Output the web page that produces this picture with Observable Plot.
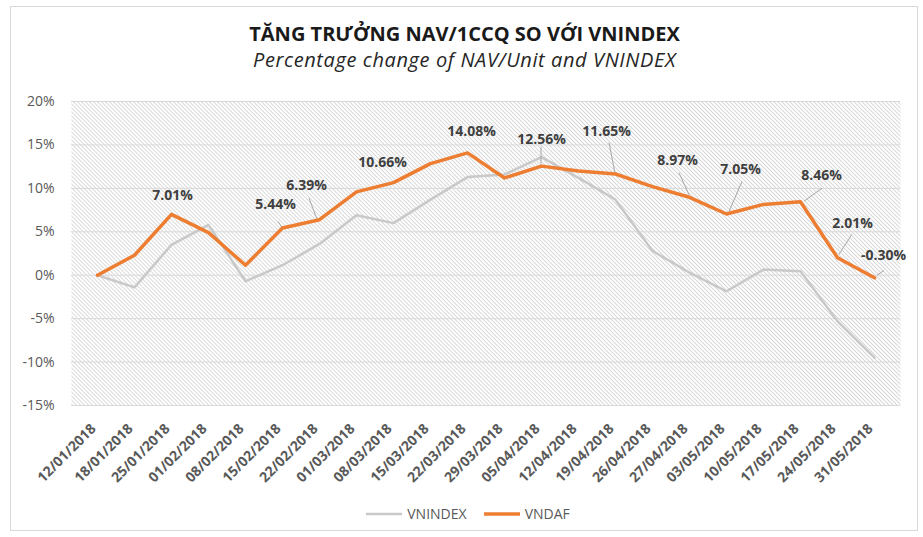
<!DOCTYPE html>
<html>
<head>
<meta charset="utf-8">
<script src="https://cdn.jsdelivr.net/npm/d3@7"></script>
<script src="https://cdn.jsdelivr.net/npm/@observablehq/plot@0.6"></script>
<style>
  body { margin: 0; background: #fff; }
  #wrap { position: relative; width: 923px; height: 537px; font-family: "Open Sans", sans-serif; overflow: hidden; }
  #frame { position: absolute; left: 10px; top: 6px; width: 908px; height: 525px; border: 1px solid #d9d9d9; box-sizing: border-box; }
  #title { position: absolute; top: 20px; left: 6px; width: 917px; text-align: center; font: bold 20px "Open Sans", sans-serif; color: #1a1a1a; line-height: 27px; }
  #subtitle { position: absolute; top: 46px; left: 6px; width: 917px; text-align: center; font: italic 20px "Open Sans", sans-serif; letter-spacing: 0.6px; color: #262626; line-height: 27px; }
  #chart { position: absolute; top: 85px; left: 0; }
  #legend { position: absolute; top: 504px; left: 0; width: 923px; display: flex; justify-content: center; align-items: center; font: 14px "Open Sans", sans-serif; color: #595959; padding-left: 12px; box-sizing: border-box; }
  #legend .item { display: flex; align-items: center; margin: 0 8px; }
  #legend svg { margin-right: 4px; }
</style>
</head>
<body>
<div id="wrap">
  <div id="frame"></div>
  <div id="title">TĂNG TRƯỞNG NAV/1CCQ SO VỚI VNINDEX</div>
  <div id="subtitle">Percentage change of NAV/Unit and VNINDEX</div>
  <div id="chart"></div>
  <div id="legend"></div>
</div>
<script>
// ---- data ----
const dates = ["12/01/2018","18/01/2018","25/01/2018","01/02/2018","08/02/2018","15/02/2018","22/02/2018","01/03/2018","08/03/2018","15/03/2018","22/03/2018","29/03/2018","05/04/2018","12/04/2018","19/04/2018","26/04/2018","27/04/2018","03/05/2018","10/05/2018","17/05/2018","24/05/2018","31/05/2018"];
const vnindex = [0, -1.4, 3.5, 5.8, -0.7, 1.15, 3.6, 6.9, 6.0, 8.7, 11.3, 11.6, 13.6, 11.2, 8.7, 2.8, 0.3, -1.85, 0.65, 0.45, -5.3, -9.5];
const vndaf = [0, 2.3, 7.01, 4.9, 1.15, 5.44, 6.39, 9.6, 10.66, 12.85, 14.08, 11.2, 12.56, 12.0, 11.65, 10.2, 8.97, 7.05, 8.15, 8.46, 2.01, -0.30];
const labeledIdx = [2, 5, 6, 8, 10, 12, 14, 16, 17, 19, 20, 21];
const yTicks = [-15, -10, -5, 0, 5, 10, 15, 20];
const seriesNames = ["VNINDEX", "VNDAF"];

// ---- layout (label placement, pixels relative to point) ----
const labelLayout = {
  2: {dx: 1, dy: -19},
  5: {dx: -7, dy: -23, lead: [-4, -6, 0, 0]},
  6: {dx: -13, dy: -34, lead: [-10, -21, -2, 0]},
  8: {dx: -11, dy: -20},
  10: {dx: 4, dy: -21},
  12: {dx: 0, dy: -27, lead: [0, -19, 0, -2]},
  14: {dx: -9, dy: -43, lead: [-6, -31, 0, 0]},
  16: {dx: -12, dy: -37, lead: [-10, -24, 0, -2]},
  17: {dx: 14, dy: -44, lead: [16, -32, 3, -2]},
  19: {dx: 21, dy: -26, lead: [22, -13, 4, 0]},
  20: {dx: 15, dy: -34, lead: [15, -23, 2, -3]},
  21: {dx: 9, dy: -22, lead: [10, -7, 3, -2]}
};
const colors = {VNINDEX: "#c9c9c9", VNDAF: "#ED7D31"};

const idxRows = dates.map((d, i) => ({date: d, value: vnindex[i]}));
const dafRows = dates.map((d, i) => ({date: d, value: vndaf[i]}));

const labelMarks = labeledIdx.map(i => Plot.text([dafRows[i]], {
  x: "date", y: "value",
  text: d => d.value.toFixed(2) + "%",
  dx: labelLayout[i].dx, dy: labelLayout[i].dy,
  fill: "#404040", fontWeight: "bold", fontSize: 14
}));

function leaderMark(index, scales) {
  const g = d3.create("svg:g").attr("stroke", "#a6a6a6").attr("stroke-width", 1);
  for (const i of labeledIdx) {
    const L = labelLayout[i].lead;
    if (!L) continue;
    const x = scales.x(dates[i]), y = scales.y(vndaf[i]);
    g.append("line").attr("x1", x + L[0]).attr("y1", y + L[1]).attr("x2", x + L[2]).attr("y2", y + L[3]);
  }
  return g.node();
}

const svg = Plot.plot({
  width: 923,
  height: 400,
  marginLeft: 71,
  marginRight: 23,
  marginTop: 16,
  marginBottom: 80,
  style: {fontFamily: "'Open Sans', sans-serif", background: "transparent"},
  x: {type: "point", domain: dates, padding: 0.5, label: null},
  y: {domain: [-15, 20], label: null},
  marks: [
    Plot.frame({fill: "url(#hatch)", stroke: null}),
    Plot.ruleY(yTicks, {stroke: "#d9d9d9", strokeWidth: 1}),
    Plot.axisY({ticks: yTicks, tickFormat: d => d + "%", tickSize: 0, tickPadding: 17, fontSize: 14, fill: "#595959"}),
    Plot.axisX({tickRotate: -45, tickSize: 0, tickPadding: 21, dx: -4, fontSize: 14, fontWeight: "bold", fill: "#595959"}),
    Plot.line(idxRows, {x: "date", y: "value", stroke: colors.VNINDEX, strokeWidth: 2.5}),
    leaderMark,
    Plot.line(dafRows, {x: "date", y: "value", stroke: colors.VNDAF, strokeWidth: 3.5}),
    ...labelMarks
  ]
});
svg.insertAdjacentHTML("afterbegin",
  '<defs><pattern id="hatch" patternUnits="userSpaceOnUse" width="2.83" height="2.83" patternTransform="rotate(-45)">' +
  '<rect width="2.83" height="2.83" fill="#ffffff"/>' +
  '<line x1="0.5" y1="0" x2="0.5" y2="2.83" stroke="#d4d4d4" stroke-width="0.9"/></pattern></defs>');
document.getElementById("chart").appendChild(svg);

// legend
const legend = d3.select("#legend");
for (const name of seriesNames) {
  const it = legend.append("div").attr("class", "item");
  const s = it.append("svg").attr("width", 38).attr("height", 8);
  s.append("line").attr("x1", 1).attr("x2", 37).attr("y1", 4).attr("y2", 4)
    .attr("stroke", colors[name]).attr("stroke-width", name === "VNDAF" ? 3.5 : 2.5);
  it.append("span").text(name);
}
</script>
</body>
</html>
